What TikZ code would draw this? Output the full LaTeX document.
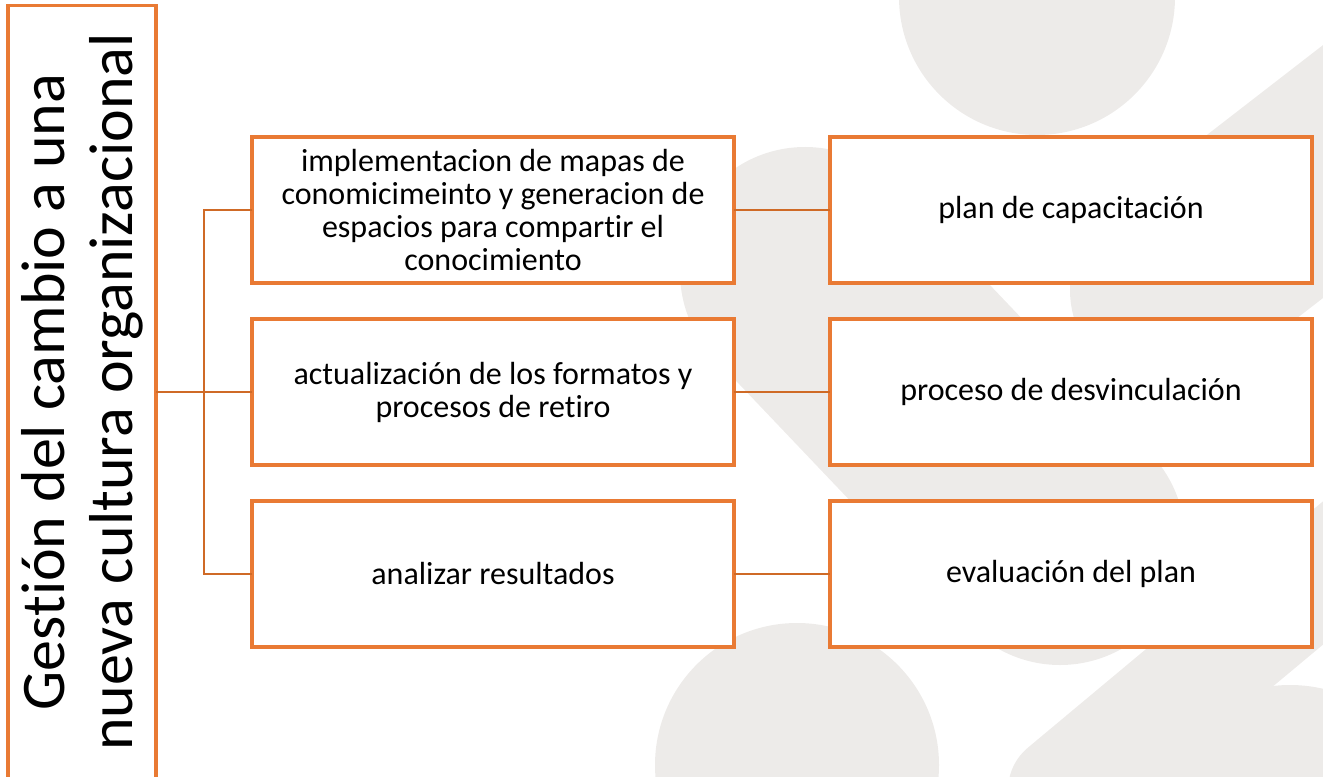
\documentclass[tikz,border=0pt]{standalone}
\usepackage{fontspec}
\setmainfont{Carlito}[Ligatures={NoCommon,NoRare,NoDiscretionary}]
\usetikzlibrary{positioning}
\definecolor{boxOrange}{HTML}{E97A34}
\definecolor{linkOrange}{HTML}{CF6A26}
\definecolor{shadeGrey}{HTML}{EDEBE9}
\tikzset{
    stepbox/.style={draw=boxOrange, line width=2.8pt, fill=white, outer sep=0pt,
        minimum width=361.5pt, minimum height=109.5pt, inner sep=2pt,
        align=center, font=\fontsize{24}{24.75}\selectfont},
    titlebox/.style={draw=boxOrange, line width=2.8pt, fill=white, outer sep=0pt,
        minimum width=579.75pt, minimum height=111pt, inner sep=2pt,
        align=center, font=\fontsize{46.5}{51}\selectfont},
    link/.style={draw=linkOrange, line width=2.2pt},
    blob/.style={draw=shadeGrey, line cap=round}
}

\begin{document}
\begin{tikzpicture}[x=0.75pt, y=-0.75pt]
    \useasboundingbox (0,0) rectangle (1323,777);

    % --- background figures ---
    \begin{scope}
        \clip (0,0) rectangle (1323,777);
        \fill[shadeGrey] (1037,-3) circle (103.5pt);
        \draw[blob, line width=187.5pt] (805,272) -- (1060,540);
        \draw[blob, line width=150pt] (1480,50) -- (1170,290);
        \draw[blob, line width=82.5pt] (1063,790) -- (1420,492);
        \fill[shadeGrey] (797,765) circle (106.5pt);
        \fill[shadeGrey] (1290,830) circle (108.75pt);
    \end{scope}

    % --- title ---
    \node[titlebox, rotate=90] (title) at (82,392)
        {Gestión del cambio a una\\nueva cultura organizacional};

    % --- middle column ---
    \node[stepbox] (m1) at (493,210)
        {implementacion de mapas de\\conomicimeinto y generacion de\\espacios para compartir el\\conocimiento};
    \node[stepbox, below=27pt of m1] (m2)
        {actualización de los formatos y\\procesos de retiro};
    \node[stepbox, below=27pt of m2] (m3) {analizar resultados};

    % --- right column ---
    \node[stepbox, right=72pt of m1] (r1) {plan de capacitación};
    \node[stepbox, right=72pt of m2] (r2) {proceso de desvinculación};
    \node[stepbox, right=72pt of m3] (r3) {evaluación del plan};

    % --- connectors ---
    \coordinate (bus) at (m2.west -| 204,0);
    \draw[link] (title.south |- bus) -- (bus);
    \draw[link] (m1.west) -- (m1.west -| bus) -- (m3.west -| bus) -- (m3.west);
    \draw[link] (bus) -- (m2.west);
    \foreach \i in {1,2,3}
        \draw[link] (m\i.east) -- (r\i.west);

\end{tikzpicture}
\end{document}
